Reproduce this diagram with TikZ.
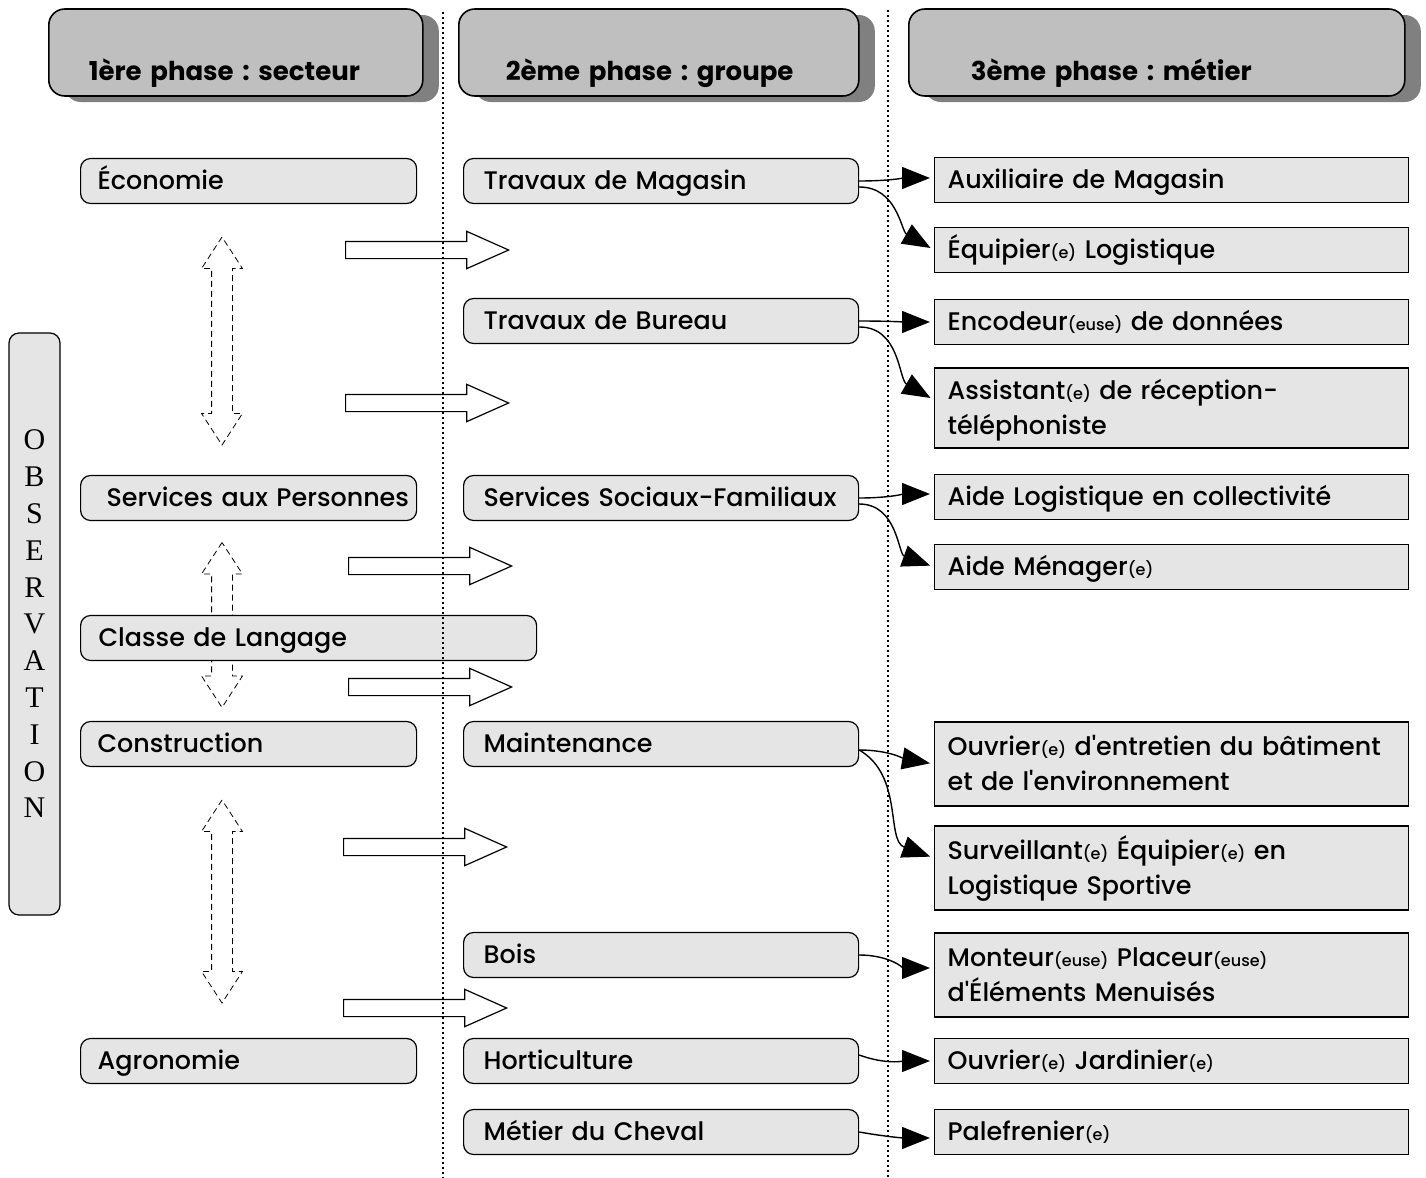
\documentclass[tikz,border=0pt]{standalone}
\usepackage{fontspec}
\IfFontExistsTF{Poppins Medium}
  {\setmainfont{Poppins Medium}[Ligatures=TeXOff, BoldFont={Poppins Bold}]}
  {\setmainfont{Poppins}[Ligatures=TeXOff]}
\newfontfamily\obsfont{Liberation Serif}
\usetikzlibrary{arrows.meta,shapes.arrows,shadows}
\newcommand{\petit}[1]{{\fontsize{8}{9}\selectfont #1}}
\frenchspacing

\begin{document}
\begin{tikzpicture}[x=0.5pt,y=-0.5pt,
    font=\fontsize{12.7}{17.5}\selectfont,
    phasebox/.style={draw, thick, rounded corners=8pt, fill=black!25, anchor=west, align=left,
      font=\fontsize{13}{15}\selectfont\bfseries, text height=33pt, text depth=5.5pt, inner ysep=2.5pt,
      drop shadow={shadow xshift=8pt, shadow yshift=-3pt, fill=black!50, opacity=1}},
    secbox/.style={draw, semithick, rounded corners=5pt, fill=black!10, anchor=west, align=left,
      minimum height=22.5pt, inner xsep=8.5pt, text width=151pt, text height=10.5pt, text depth=2pt},
    grpbox/.style={secbox, inner xsep=10pt, text width=177.5pt},
    metbox/.style={draw, semithick, fill=black!10, anchor=west, align=left,
      minimum height=22.5pt, inner xsep=6.5pt, text width=224pt, text height=10.5pt, text depth=2pt},
    twoline/.style={minimum height=42pt, text depth=19.5pt},
    passarrow/.style={draw, semithick, single arrow, fill=white, anchor=tail, inner xsep=0pt, inner ysep=4pt,
      minimum height=81.5pt, minimum width=18pt, single arrow head extend=5pt, single arrow tip angle=48},
    linkarrow/.style={draw, double arrow, densely dashed, inner xsep=0pt, inner ysep=5pt, rotate=90,
      minimum width=20pt, double arrow head extend=5pt, double arrow tip angle=66},
    link/.style={line width=0.7pt, -{Triangle[length=14pt,width=11pt]}, shorten >=2pt}]

  % Page
  \useasboundingbox (0,0) rectangle (1426,1178);

  % Headers
  \node[phasebox, inner xsep=20pt, text width=147pt] (ph1) at (48,52.5) {1ère phase : secteur};
  \node[phasebox, inner xsep=23.5pt, text width=153pt] (ph2) at (458,52.5) {2ème phase : groupe};
  \node[phasebox, inner xsep=31pt, text width=186pt] (ph3) at (908,52.5) {3ème phase : métier};

  % Observation
  \node[draw, semithick, rounded corners=5pt, fill=black!10, minimum width=25.5pt, minimum height=291pt,
    align=center, font=\obsfont\fontsize{15}{18.4}\selectfont] (obs) at (34.5,624)
    {O\\B\\S\\E\\R\\V\\A\\T\\I\\O\\N};

  % Up-down arrows
  \node[linkarrow, minimum height=104pt] (ud1) at (222,341) {};
  \node[linkarrow, minimum height=82.5pt] (ud2) at (222,625) {};
  \node[linkarrow, minimum height=101.5pt] (ud3) at (222,901.5) {};

  % Block arrows
  \node[passarrow] (pa1) at (345,250) {};
  \node[passarrow] (pa2) at (345,403) {};
  \node[passarrow] (pa3) at (348,566) {};
  \node[passarrow] (pa4) at (348,687) {};
  \node[passarrow] (pa5) at (343,847) {};
  \node[passarrow] (pa6) at (343,1008) {};

  % Secteurs
  \node[secbox] (eco) at (80,181) {Économie};
  \node[secbox] (spe) at (80,498) {\mbox{\hspace*{4.5pt}Services aux Personnes}};
  \node[secbox, inner xsep=9pt, text width=210pt] (lan) at (80,638) {Classe de Langage};
  \node[secbox] (con) at (80,744) {Construction};
  \node[secbox] (agr) at (80,1061) {Agronomie};

  % Groupes
  \node[grpbox] (mag) at (463,181) {Travaux de Magasin};
  \node[grpbox] (bur) at (463,321) {Travaux de Bureau};
  \node[grpbox] (soc) at (463,498) {\mbox{Services Sociaux-Familiaux}};
  \node[grpbox] (mai) at (463,744) {Maintenance};
  \node[grpbox] (boi) at (463,955) {Bois};
  \node[grpbox] (hor) at (463,1061) {Horticulture};
  \node[grpbox] (che) at (463,1132) {Métier du Cheval};

  % Metiers
  \node[metbox] (aux) at (934,180) {Auxiliaire de Magasin};
  \node[metbox] (equ) at (934,250) {Équipier\petit{(e)} Logistique};
  \node[metbox] (enc) at (934,322) {Encodeur\petit{(euse)} de données};
  \node[metbox, twoline, minimum height=40pt] (ass) at (934,408) {Assistant\petit{(e)} de réception-\\téléphoniste};
  \node[metbox] (alc) at (934,497) {Aide Logistique en collectivité};
  \node[metbox] (men) at (934,567) {Aide Ménager\petit{(e)}};
  \node[metbox, twoline] (ouv) at (934,764) {\mbox{Ouvrier\petit{(e)} d'entretien du bâtiment}\\et de l'environnement};
  \node[metbox, twoline] (sur) at (934,868) {Surveillant\petit{(e)} Équipier\petit{(e)} en\\Logistique Sportive};
  \node[metbox, twoline] (mon) at (934,975) {Monteur\petit{(euse)} Placeur\petit{(euse)}\\d'Éléments Menuisés};
  \node[metbox] (jar) at (934,1061) {Ouvrier\petit{(e)} Jardinier\petit{(e)}};
  \node[metbox] (pal) at (934,1132) {Palefrenier\petit{(e)}};

  % Links
  \draw[link] (mag.east) to[out=0,in=180] ([yshift=1pt]aux.west);
  \draw[link] ([yshift=-3pt]mag.east) to[out=0,in=150] (equ.west);
  \draw[link] (bur.east) to[out=0,in=180] (enc.west);
  \draw[link] ([yshift=-3pt]bur.east) to[out=0,in=150] ([yshift=4pt]ass.west);
  \draw[link] (soc.east) to[out=0,in=180] ([yshift=1.5pt]alc.west);
  \draw[link] ([yshift=-3pt]soc.east) to[out=0,in=160] (men.west);
  \draw[link] ([yshift=-3pt]mai.east) to[out=0,in=170] (ouv.west);
  \draw[link] ([yshift=-3pt]mai.east) to[out=-30,in=160] ([yshift=5pt]sur.west);
  \draw[link] (boi.east) to[out=0,in=180] ([yshift=3.5pt]mon.west);
  \draw[link] ([yshift=3pt]hor.east) to[out=-20,in=180] (jar.west);
  \draw[link] (che.east) to[out=-10,in=180] ([yshift=-3pt]pal.west);

  % Dotted lines
  \draw[line width=0.8pt, dash pattern=on 1pt off 1.5pt] (443,12) -- (443,1178);
  \draw[line width=0.8pt, dash pattern=on 1pt off 1.5pt] (888,10) -- (888,1178);

\end{tikzpicture}
\end{document}
